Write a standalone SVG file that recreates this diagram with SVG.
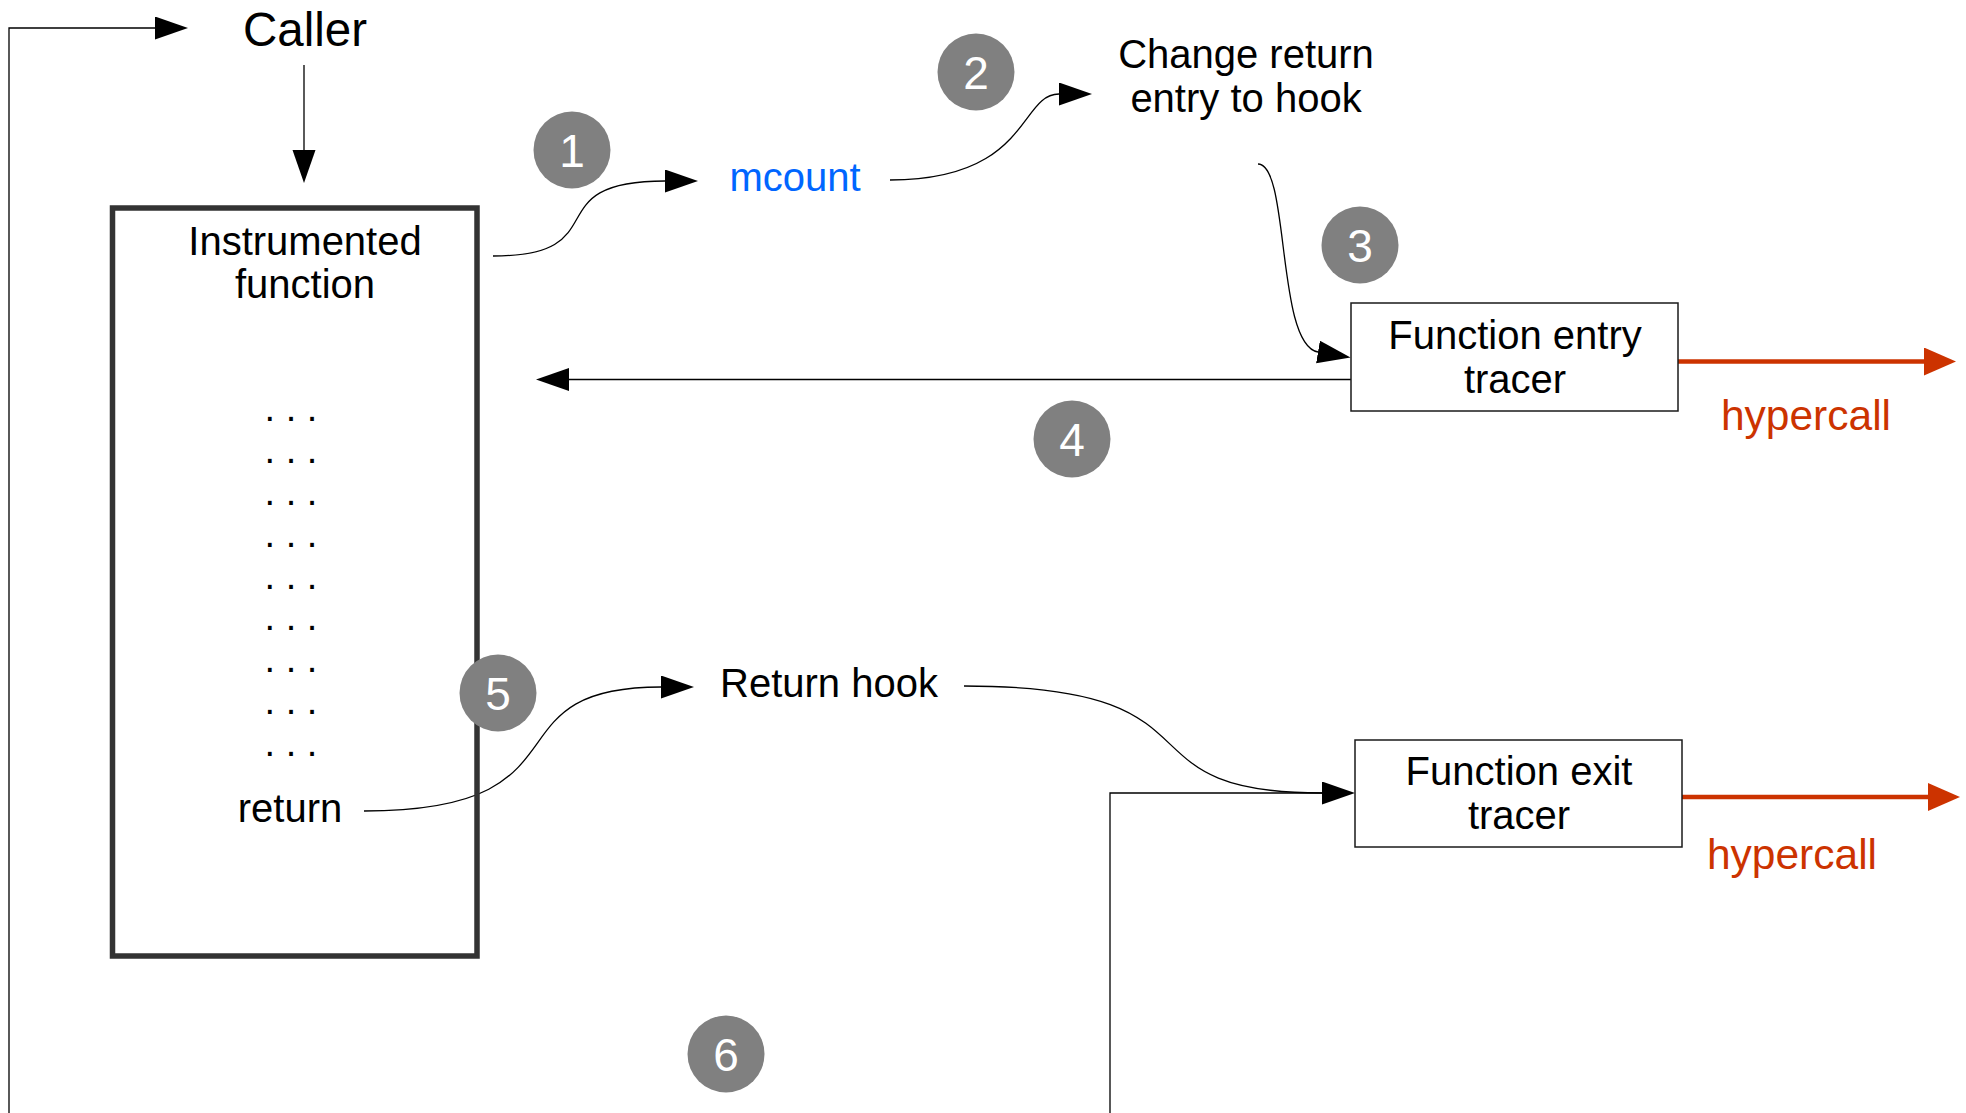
<svg xmlns="http://www.w3.org/2000/svg" width="1966" height="1113" viewBox="0 0 1966 1113">
<defs>
<marker id="ah" markerUnits="userSpaceOnUse" markerWidth="34" markerHeight="24" viewBox="0 0 34 24" refX="0" refY="11.5" orient="auto">
<path d="M0,0 L33,11.5 L0,23 z" fill="#000"/>
</marker>
<marker id="ahr" markerUnits="userSpaceOnUse" markerWidth="34" markerHeight="30" viewBox="0 0 34 30" refX="0" refY="14" orient="auto">
<path d="M0,0 L32,14 L0,28 z" fill="#cc3300"/>
</marker>
<style>
text{font-family:"Liberation Sans",Arial,sans-serif;fill:#000;text-anchor:middle}
.t{font-size:40px}
.dots{font-size:38px}
.num{font-size:46px;fill:#fff}
.badge{fill:#808080}
.conn{fill:none;stroke:#000;stroke-width:1.3}
.red{fill:none;stroke:#cc3300;stroke-width:4.3}
.hc{font-size:42.5px;fill:#cc3300}
.box{fill:#fff;stroke:#1a1a1a;stroke-width:1.5}
</style>
</defs>
<rect width="1966" height="1113" fill="#fff"/>

<g id="connectors">
<path class="conn" d="M1322,793 H1110 V1130 H9 V28 H155" marker-end="url(#ah)"/>
<path class="conn" d="M304,65 V150" marker-end="url(#ah)"/>
<path class="conn" d="M493,256 C620,256 533,181 665,181" marker-end="url(#ah)"/>
<path class="conn" d="M890,180 C1030,180 1019,94 1059,94" marker-end="url(#ah)"/>
<path class="conn" d="M1258,164 C1290,164 1276,345 1318,352" marker-end="url(#ah)"/>
<path class="conn" d="M1351,379.5 H569" marker-end="url(#ah)"/>
<path class="conn" d="M364,811 C598,811 482,687 661,687" marker-end="url(#ah)"/>
<path class="conn" d="M964,686 C1237,686 1108,793 1322,793" marker-end="url(#ah)"/>
<path class="red" d="M1678,361.5 H1924" marker-end="url(#ahr)"/>
<path class="red" d="M1682,797 H1928" marker-end="url(#ahr)"/>
</g>

<g id="caller">
<text x="305" y="46" style="font-size:47.5px">Caller</text>
</g>

<g id="instrumented-function">
<rect x="112.5" y="208" width="364.5" height="748" fill="none" stroke="#333" stroke-width="5.5"/>
<text class="t" x="305" y="255">Instrumented</text>
<text class="t" x="305" y="298">function</text>
<text class="dots" x="291" y="421.3">. . .</text>
<text class="dots" x="291" y="463.1">. . .</text>
<text class="dots" x="291" y="504.9">. . .</text>
<text class="dots" x="291" y="546.7">. . .</text>
<text class="dots" x="291" y="588.5">. . .</text>
<text class="dots" x="291" y="630.3">. . .</text>
<text class="dots" x="291" y="672.1">. . .</text>
<text class="dots" x="291" y="713.9">. . .</text>
<text class="dots" x="291" y="755.7">. . .</text>
<text class="t" x="290" y="822">return</text>
</g>

<g id="mcount">
<text class="t" x="795" y="191" style="fill:#0066ff">mcount</text>
</g>

<g id="change-return">
<text class="t" x="1246" y="68">Change return</text>
<text class="t" x="1246" y="111.5">entry to hook</text>
</g>

<g id="function-entry-tracer">
<rect class="box" x="1351" y="303" width="327" height="108"/>
<text class="t" x="1515" y="349">Function entry</text>
<text class="t" x="1515" y="393">tracer</text>
</g>

<g id="hypercall-entry">
<text class="hc" x="1806" y="430">hypercall</text>
</g>

<g id="return-hook">
<text class="t" x="829" y="697">Return hook</text>
</g>

<g id="function-exit-tracer">
<rect class="box" x="1355" y="740" width="327" height="107"/>
<text class="t" x="1519" y="785">Function exit</text>
<text class="t" x="1519" y="829">tracer</text>
</g>

<g id="hypercall-exit">
<text class="hc" x="1792" y="869">hypercall</text>
</g>

<g id="step-1"><circle class="badge" cx="572" cy="150" r="38.5"/><text class="num" x="572" y="166.5">1</text></g>
<g id="step-2"><circle class="badge" cx="976" cy="72" r="38.5"/><text class="num" x="976" y="88.5">2</text></g>
<g id="step-3"><circle class="badge" cx="1360" cy="245" r="38.5"/><text class="num" x="1360" y="261.5">3</text></g>
<g id="step-4"><circle class="badge" cx="1072" cy="439" r="38.5"/><text class="num" x="1072" y="455.5">4</text></g>
<g id="step-5"><circle class="badge" cx="498" cy="693" r="38.5"/><text class="num" x="498" y="709.5">5</text></g>
<g id="step-6"><circle class="badge" cx="726" cy="1054" r="38.5"/><text class="num" x="726" y="1070.5">6</text></g>
</svg>
